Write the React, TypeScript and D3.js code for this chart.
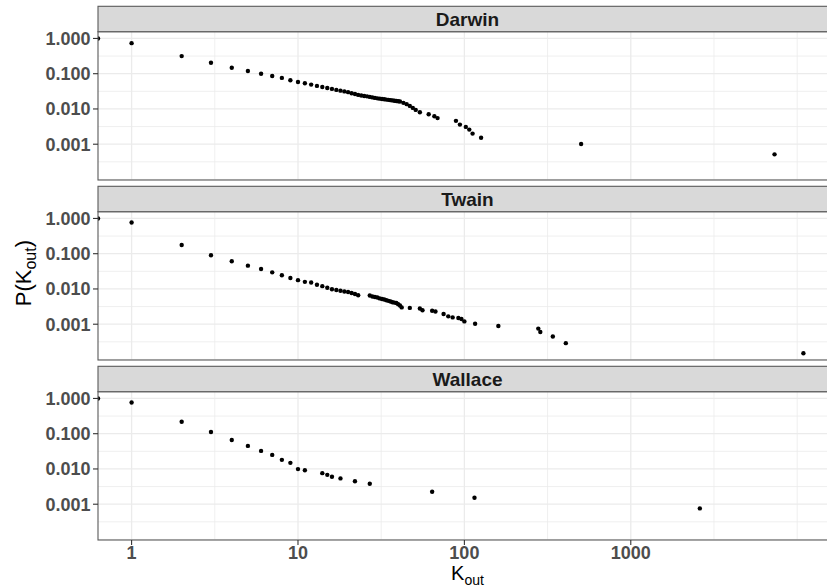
import React from "react";
import * as d3 from "d3";

// ---- data ----
const CATEGORIES = ["Darwin", "Twain", "Wallace"];

const DARWIN_K = [0, 1, 2, 3, 4, 5, 6, 7, 8, 9, 10, 11, 12, 13, 14, 15, 16, 17, 18, 19, 20, 21, 22, 23, 24, 25, 26, 27, 28, 29, 30, 31, 32, 33, 34, 35, 36, 37, 38, 39, 40, 41, 43, 45, 47, 49, 51, 54, 61, 66, 69, 89, 94, 102, 107, 112, 126, 503, 7310];
const DARWIN_P = [1, 0.736, 0.316, 0.205, 0.148, 0.119, 0.1, 0.086, 0.076, 0.065, 0.058, 0.0536, 0.049, 0.045, 0.042, 0.0394, 0.037, 0.0347, 0.033, 0.0315, 0.03, 0.028, 0.0265, 0.025, 0.024, 0.0233, 0.0228, 0.022, 0.0213, 0.0206, 0.02, 0.0196, 0.0192, 0.0188, 0.0184, 0.0181, 0.0178, 0.0175, 0.0171, 0.0168, 0.0165, 0.0162, 0.0149, 0.0137, 0.0122, 0.0107, 0.0094, 0.0081, 0.0071, 0.0062, 0.0055, 0.0046, 0.0036, 0.0031, 0.0026, 0.002, 0.00152, 0.00101, 0.000515];

const TWAIN_K = [0, 1, 2, 3, 4, 5, 6, 7, 8, 9, 10, 11, 12, 13, 14, 15, 16, 17, 18, 19, 20, 21, 22, 23, 27, 28, 29, 30, 31, 32, 33, 34, 35, 36, 37, 38, 39, 40, 41, 42, 47, 54, 56, 64, 67, 75, 80, 85, 92, 96, 100, 116, 160, 278, 286, 340, 407, 10900];
const TWAIN_P = [1, 0.77, 0.176, 0.09, 0.061, 0.0458, 0.0367, 0.0296, 0.0245, 0.0205, 0.0178, 0.0159, 0.0152, 0.0131, 0.012, 0.0108, 0.0098, 0.0093, 0.0089, 0.0085, 0.0082, 0.0077, 0.0072, 0.0066, 0.0065, 0.0061, 0.0059, 0.0057, 0.0054, 0.0052, 0.005, 0.0048, 0.0046, 0.0044, 0.0042, 0.0041, 0.004, 0.0037, 0.0034, 0.003, 0.0029, 0.0028, 0.0025, 0.0024, 0.0023, 0.00194, 0.00167, 0.00156, 0.0015, 0.0014, 0.0012, 0.00103, 0.00089, 0.00075, 0.0006, 0.00045, 0.00029, 0.00015];

const WALLACE_K = [0, 1, 2, 3, 4, 5, 6, 7, 8, 9, 10, 11, 14, 15, 16, 18, 22, 27, 64, 115, 2600];
const WALLACE_P = [1, 0.77, 0.219, 0.112, 0.0664, 0.045, 0.0325, 0.025, 0.0181, 0.0149, 0.0099, 0.0092, 0.0076, 0.0068, 0.006, 0.0054, 0.0045, 0.0038, 0.00225, 0.00153, 0.00076];

const X_TICKS = [1, 10, 100, 1000];
const X_TICK_LABELS = ["1", "10", "100", "1000"];
const X_MINOR = [Math.pow(10, 0.5), Math.pow(10, 1.5), Math.pow(10, 2.5), Math.pow(10, 3.5), 10000];
const Y_TICKS = [1, 0.1, 0.01, 0.001];
const Y_TICK_LABELS = ["1.000", "0.100", "0.010", "0.001"];
const Y_MINOR = [Math.pow(10, -0.5), Math.pow(10, -1.5), Math.pow(10, -2.5), Math.pow(10, -3.5), 0.0001];

const SERIES_K = [DARWIN_K, TWAIN_K, WALLACE_K];
const SERIES_P = [DARWIN_P, TWAIN_P, WALLACE_P];

// ---- layout ----
const W = 827;
const H = 588;
const PANEL_LEFT = 98;
const PANEL_RIGHT = 837;
const STRIP_TOP = 6.3;
const STRIP_H = 25.4;
const PANEL_H = 148.3;
const PANEL_STEP = 180;
const FONT = "'Liberation Sans', Arial, Helvetica, sans-serif";

function expandLog(vals: number[]): [number, number] {
  const logs = vals.filter((v) => v > 0).map((v) => Math.log10(v));
  const lo = d3.min(logs) as number;
  const hi = d3.max(logs) as number;
  const pad = (hi - lo) * 0.05;
  return [Math.pow(10, lo - pad), Math.pow(10, hi + pad)];
}

export default function App() {
  const allK = SERIES_K.flat();
  const allP = SERIES_P.flat();
  const x = d3.scaleLog().domain(expandLog(allK)).range([PANEL_LEFT, PANEL_RIGHT]);
  const yDomain = expandLog(allP);

  const panels = CATEGORIES.map((name, i) => {
    const off = i * PANEL_STEP;
    const top = off + STRIP_TOP + STRIP_H;
    const bottom = top + PANEL_H;
    const y = d3.scaleLog().domain(yDomain).range([bottom, top]);
    const pts = SERIES_K[i].map((k, j) => ({
      cx: k > 0 ? x(k) : PANEL_LEFT,
      cy: y(SERIES_P[i][j]),
    }));
    const clipId = `clip-${i}`;
    return (
      <g key={name}>
        <defs>
          <clipPath id={clipId}>
            <rect x={PANEL_LEFT} y={top} width={PANEL_RIGHT - PANEL_LEFT} height={PANEL_H} />
          </clipPath>
        </defs>
        <rect x={PANEL_LEFT} y={top} width={PANEL_RIGHT - PANEL_LEFT} height={PANEL_H} fill="#ffffff" />
        {X_MINOR.map((v) => (
          <line key={"xm" + v} x1={x(v)} x2={x(v)} y1={top} y2={bottom} stroke="#EBEBEB" strokeWidth={0.8} />
        ))}
        {Y_MINOR.map((v) => (
          <line key={"ym" + v} x1={PANEL_LEFT} x2={PANEL_RIGHT} y1={y(v)} y2={y(v)} stroke="#EBEBEB" strokeWidth={0.8} />
        ))}
        {X_TICKS.map((v) => (
          <line key={"xg" + v} x1={x(v)} x2={x(v)} y1={top} y2={bottom} stroke="#EBEBEB" strokeWidth={1.3} />
        ))}
        {Y_TICKS.map((v) => (
          <line key={"yg" + v} x1={PANEL_LEFT} x2={PANEL_RIGHT} y1={y(v)} y2={y(v)} stroke="#EBEBEB" strokeWidth={1.3} />
        ))}
        <g clipPath={`url(#${clipId})`}>
          {pts.map((p, j) => (
            <circle key={j} cx={p.cx} cy={p.cy} r={2.2} fill="#000000" />
          ))}
        </g>
        <rect x={PANEL_LEFT} y={top} width={PANEL_RIGHT - PANEL_LEFT} height={PANEL_H} fill="none" stroke="#5a5a5a" strokeWidth={1.1} />
        {/* strip */}
        <rect x={PANEL_LEFT} y={off + STRIP_TOP} width={PANEL_RIGHT - PANEL_LEFT} height={STRIP_H} fill="#D9D9D9" stroke="#5a5a5a" strokeWidth={1.1} />
        <text x={(PANEL_LEFT + PANEL_RIGHT) / 2} y={off + STRIP_TOP + STRIP_H / 2} dy="0.36em" textAnchor="middle" fontFamily={FONT} fontWeight="bold" fontSize={19} fill="#1A1A1A">
          {name}
        </text>
        {/* y axis */}
        {Y_TICKS.map((v, j) => (
          <g key={"yt" + v}>
            <line x1={PANEL_LEFT - 5} x2={PANEL_LEFT} y1={y(v)} y2={y(v)} stroke="#333333" strokeWidth={1.1} />
            <text x={PANEL_LEFT - 7.5} y={y(v)} dy="0.36em" textAnchor="end" fontFamily={FONT} fontWeight="bold" fontSize={18} fill="#4D4D4D">
              {Y_TICK_LABELS[j]}
            </text>
          </g>
        ))}
      </g>
    );
  });

  const lastBottom = 2 * PANEL_STEP + STRIP_TOP + STRIP_H + PANEL_H;
  const plotMidY = (STRIP_TOP + lastBottom) / 2;

  return (
    <svg width={W} height={H} style={{ position: "fixed", left: 0, top: 0, background: "#fff" }}>
      <rect x={0} y={0} width={W} height={H} fill="#ffffff" />
      {panels}
      {X_TICKS.map((v, j) => (
        <g key={"xt" + v}>
          <line x1={x(v)} x2={x(v)} y1={lastBottom} y2={lastBottom + 5} stroke="#333333" strokeWidth={1.1} />
          <text x={x(v)} y={lastBottom + 18.5} textAnchor="middle" fontFamily={FONT} fontWeight="bold" fontSize={18} fill="#4D4D4D">
            {X_TICK_LABELS[j]}
          </text>
        </g>
      ))}
      <text x={(PANEL_LEFT + PANEL_RIGHT) / 2} y={580} textAnchor="middle" fontFamily={FONT} fontSize={20} fill="#000000">
        K<tspan fontSize={14} dy={5}>out</tspan>
      </text>
      <text transform={`translate(31,${plotMidY}) rotate(-90)`} textAnchor="middle" fontFamily={FONT} fontSize={22} fill="#000000">
        P(K<tspan fontSize={16} dy={5}>out</tspan><tspan dy={-5}>)</tspan>
      </text>
    </svg>
  );
}
